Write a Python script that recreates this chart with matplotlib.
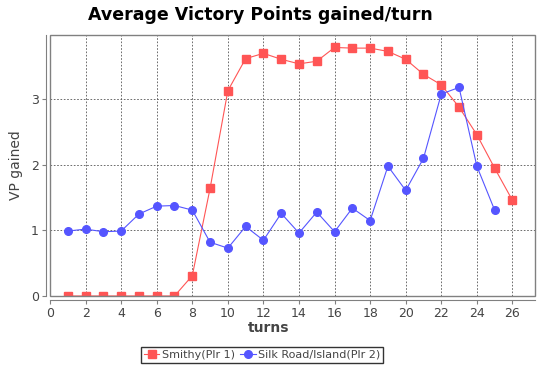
import matplotlib.pyplot as plt
from matplotlib.patches import Rectangle

# data
turns_smithy = list(range(1, 27))
vp_smithy = [0, 0, 0, 0, 0, 0, 0, 0.31, 1.64, 3.13, 3.62, 3.70, 3.61, 3.54,
             3.58, 3.79, 3.78, 3.78, 3.73, 3.61, 3.38, 3.22, 2.88, 2.46, 1.95, 1.46]
turns_silk = list(range(1, 26))
vp_silk = [0.99, 1.02, 0.98, 0.99, 1.25, 1.37, 1.38, 1.31, 0.82, 0.73, 1.06, 0.85,
           1.26, 0.96, 1.28, 0.98, 1.34, 1.15, 1.98, 1.61, 2.10, 3.08, 3.18, 1.98, 1.31]
x_ticks = list(range(0, 27, 2))
y_ticks = [0, 1, 2, 3]

fig = plt.figure(figsize=(5.46, 3.70), dpi=100)
ax = fig.add_axes([50 / 546, 74 / 370, 485 / 546, 261 / 370])

ax.plot(turns_smithy, vp_smithy, color='#ff5555', lw=0.8, marker='s', ms=5.5,
        label='Smithy(Plr 1)')
ax.plot(turns_silk, vp_silk, color='#5555ff', lw=0.8, marker='o', ms=5.5,
        label='Silk Road/Island(Plr 2)')

ax.set_xlim(0, 27.27)
ax.set_ylim(0, 3.98)
ax.set_xticks(x_ticks)
ax.set_yticks(y_ticks)
ax.grid(True, color='#555555', ls=(0, (2, 2)), lw=0.6)
ax.set_axisbelow(True)

for s in ['top', 'right']:
    ax.spines[s].set_visible(False)
for s in ['left', 'bottom']:
    ax.spines[s].set_position(('outward', 3))
    ax.spines[s].set_color('#808080')
ax.add_patch(Rectangle((0, 0), 1, 1, transform=ax.transAxes, fill=False,
                       edgecolor='#808080', lw=1, clip_on=False, zorder=5))

ax.tick_params(colors='#808080', labelcolor='#444444', labelsize=9, length=3, pad=2)
ax.set_xlabel('turns', fontsize=10, fontweight='bold', color='#444444')
ax.xaxis.set_label_coords(0.45, -0.095)
ax.set_ylabel('VP gained', fontsize=10, color='#444444')
ax.yaxis.set_label_coords(-0.055, 0.5)
fig.suptitle('Average Victory Points gained/turn', fontsize=12.5, fontweight='bold',
             x=0.477, y=0.985)

leg = fig.legend(loc='lower center', bbox_to_anchor=(0.48, 0.02), ncol=2,
                 fontsize=8, frameon=True, fancybox=False, borderpad=0.25,
                 handlelength=1.4, handletextpad=0.2, columnspacing=0.5,
                 borderaxespad=0)
leg.get_frame().set_edgecolor('black')
leg.get_frame().set_linewidth(1)
for t in leg.get_texts():
    t.set_color('#444444')

fig.savefig('out.png', dpi=100)
